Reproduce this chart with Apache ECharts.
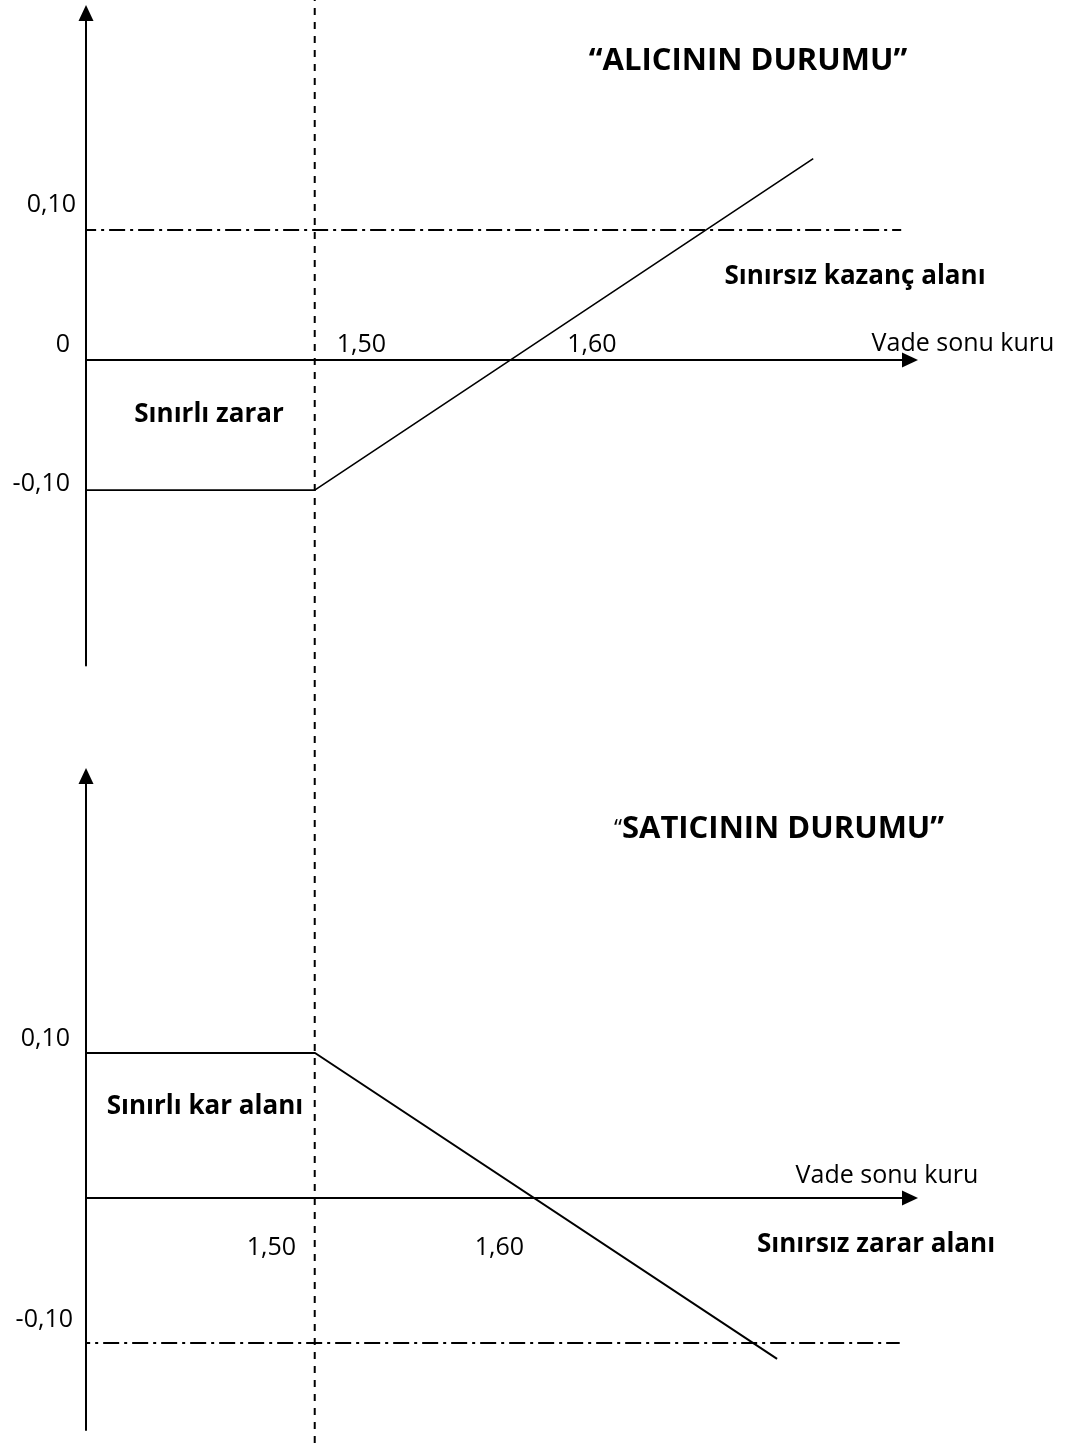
<!DOCTYPE html>
<html>
<head>
<meta charset="utf-8">
<script src="https://cdn.jsdelivr.net/npm/echarts@6/dist/echarts.min.js"></script>
<style>
  html, body { margin: 0; padding: 0; background: #fff; }
  #chart { width: 1072px; height: 1443px; }
</style>
</head>
<body>
<div id="chart"></div>
<script>
// --- veri ---
const strike = 1.50;

// alıcının durumu
const buyerX = [1.38, 1.50, 1.755];
const buyerY = [-0.10, -0.10, 0.155];
const buyerRefX = [1.38, 1.80];
const buyerRefY = [0.10, 0.10];

// satıcının durumu
const sellerX = [1.39, 1.50, 1.711];
const sellerY = [0.10, 0.10, -0.111];
const sellerRefX = [1.39, 1.767];
const sellerRefY = [-0.10, -0.10];

// eksen yazıları
const buyerYTicks = [0.10, 0, -0.10];
const buyerYTickText = ["0,10", "0", "-0,10"];
const buyerXTicks = [1.50, 1.60];
const buyerXTickText = ["1,50", "1,60"];
const sellerYTicks = [0.10, -0.10];
const sellerYTickText = ["0,10", "-0,10"];
const sellerXTicks = [1.50, 1.60];
const sellerXTickText = ["1,50", "1,60"];

// --- yerleşim ---
const font = '"Open Sans", "Noto Sans", sans-serif';
const topX = { min: 1.383, max: 1.8045 };
const botX = { min: 1.3954, max: 1.7717 };

const buyerYOffsets = [[-10, -25], [-16, -15], [-16, -6]];
const buyerXOffsets = [[22, -15], [57, -15]];
const sellerYOffsets = [[-16, -14], [-13, -23]];
const sellerXOffsets = [[-19, 50], [-10, 50]];

const zip = (xs, ys) => xs.map((x, i) => [x, ys[i]]);

const axisLine = {
  show: true,
  onZero: true,
  symbol: ["none", "triangle"],
  symbolSize: [15, 16],
  lineStyle: { color: "#000", width: 2 },
};

const plainAxis = (extra) =>
  Object.assign(
    {
      type: "value",
      axisLine: axisLine,
      axisTick: { show: false },
      axisLabel: { show: false },
      splitLine: { show: false },
    },
    extra
  );

const tickLabels = (name, xi, pts, texts, offsets, align) => ({
  name: name,
  type: "scatter",
  xAxisIndex: xi,
  yAxisIndex: xi,
  symbolSize: 0,
  silent: true,
  itemStyle: { opacity: 1 },
  data: pts.map((p, i) => ({
    value: p,
    label: {
      show: true,
      formatter: texts[i],
      position: [0, 0],
      align: align,
      verticalAlign: "middle",
      offset: offsets[i],
      fontFamily: font,
      fontSize: 25,
      color: "#000",
    },
  })),
});

const lineSeries = (name, xi, data, style) => ({
  name: name,
  type: "line",
  xAxisIndex: xi,
  yAxisIndex: xi,
  symbol: "none",
  silent: true,
  lineStyle: style,
  data: data,
});

const note = (text, x, y, bold) => ({
  type: "text",
  x: x,
  y: y,
  style: {
    text: text,
    fontFamily: font,
    fontWeight: bold ? "bold" : "normal",
    fontSize: bold ? 26 : 25,
    align: "center",
    verticalAlign: "middle",
    fill: "#000",
  },
});

const myChart = echarts.init(document.getElementById("chart"));

let options = {
  animation: false,
  backgroundColor: "#fff",
  grid: [
    { left: 86, top: 13, width: 824, height: 652.6 },
    { left: 86, top: 776, width: 824, height: 654 },
    { left: 86, top: 0, width: 824, height: 1443 },
  ],
  xAxis: [
    plainAxis({ gridIndex: 0, min: topX.min, max: topX.max }),
    plainAxis({ gridIndex: 1, min: botX.min, max: botX.max }),
    { type: "value", gridIndex: 2, min: topX.min, max: topX.max, show: false },
  ],
  yAxis: [
    plainAxis({ gridIndex: 0, min: -0.235, max: 0.267 }),
    plainAxis({ gridIndex: 1, min: -0.16, max: 0.291 }),
    { type: "value", gridIndex: 2, min: 0, max: 1, show: false },
  ],
  graphic: [
    {
      type: "text",
      x: 748,
      y: 61,
      style: {
        text: "\u201cALICININ DURUMU\u201d",
        fontFamily: font,
        fontWeight: "bold",
        fontSize: 31,
        align: "center",
        verticalAlign: "middle",
        fill: "#000",
      },
    },
    {
      type: "text",
      x: 779,
      y: 829,
      style: {
        text: "{q|\u201c}{b|SATICININ DURUMU\u201d}",
        align: "center",
        verticalAlign: "middle",
        rich: {
          q: { fontFamily: font, fontSize: 23, color: "#000" },
          b: { fontFamily: font, fontSize: 31, fontWeight: "bold", color: "#000" },
        },
      },
    },
    note("Sınırsız kazanç alanı", 855, 277, true),
    note("Sınırlı zarar", 209, 415, true),
    note("Vade sonu kuru", 963, 344, false),
    note("Sınırlı kar alanı", 205, 1107, true),
    note("Vade sonu kuru", 887, 1176, false),
    note("Sınırsız zarar alanı", 876, 1245, true),
  ],
  series: [
    // kesikli kullanım fiyatı çizgisi (iki paneli de keser)
    lineSeries("Kullanım fiyatı", 2, [[strike, 0], [strike, 1]], {
      color: "#000", width: 2, type: [7, 7],
    }),
    lineSeries("Prim (alıcı)", 0, zip(buyerRefX, buyerRefY), {
      color: "#000", width: 2, type: [16, 5, 3, 5],
    }),
    lineSeries("Alıcı", 0, zip(buyerX, buyerY), { color: "#000", width: 1.6 }),
    lineSeries("Prim (satıcı)", 1, zip(sellerRefX, sellerRefY), {
      color: "#000", width: 2, type: [16, 5, 3, 5],
    }),
    lineSeries("Satıcı", 1, zip(sellerX, sellerY), { color: "#000", width: 2 }),
    tickLabels("y üst", 0, buyerYTicks.map((v) => [topX.min, v]), buyerYTickText, buyerYOffsets, "right"),
    tickLabels("x üst", 0, buyerXTicks.map((v) => [v, 0]), buyerXTickText, buyerXOffsets, "left"),
    tickLabels("y alt", 1, sellerYTicks.map((v) => [botX.min, v]), sellerYTickText, sellerYOffsets, "right"),
    tickLabels("x alt", 1, sellerXTicks.map((v) => [v, 0]), sellerXTickText, sellerXOffsets, "right"),
  ],
};

myChart.setOption(options);
</script>
</body>
</html>
